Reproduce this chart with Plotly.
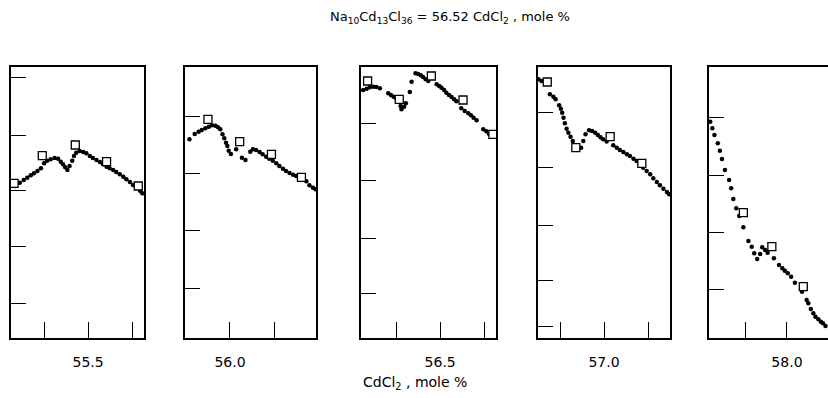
import plotly.graph_objects as go

# ---------------- data (x: CdCl2 mole %, y: arbitrary units, 1 unit = 1 division) ----------------
p1_dot_x = [55.335, 55.345, 55.354, 55.362, 55.370, 55.377, 55.385, 55.393, 55.400, 55.407,
            55.415, 55.424, 55.432, 55.438, 55.443, 55.448, 55.453, 55.458, 55.464, 55.468,
            55.473, 55.481, 55.489, 55.496, 55.504, 55.511, 55.519, 55.527, 55.534, 55.542,
            55.549, 55.557, 55.564, 55.572, 55.580, 55.587, 55.595, 55.602, 55.610, 55.618, 55.623]
p1_dot_y = [2.690, 2.749, 2.796, 2.837, 2.880, 2.915, 2.956, 3.004, 3.092, 3.138,
            3.163, 3.186, 3.173, 3.120, 3.074, 3.021, 2.973, 3.044, 3.138, 3.221,
            3.280, 3.310, 3.292, 3.269, 3.221, 3.186, 3.150, 3.115, 3.074, 3.032,
            3.004, 2.973, 2.938, 2.897, 2.855, 2.809, 2.761, 2.708, 2.660, 2.607, 2.561]
p1_sq_x = [55.332, 55.396, 55.471, 55.542, 55.614]
p1_sq_y = [2.738, 3.227, 3.416, 3.120, 2.690]

p2_dot_x = [55.908, 55.920, 55.929, 55.936, 55.944, 55.952, 55.959, 55.967, 55.973, 55.978,
            55.983, 55.987, 55.991, 55.994, 55.997, 56.002, 56.014, 56.027, 56.035, 56.046,
            56.052, 56.059, 56.067, 56.074, 56.082, 56.089, 56.097, 56.105, 56.112, 56.120,
            56.127, 56.135, 56.143, 56.150, 56.158, 56.165, 56.173, 56.180, 56.188, 56.194]
p2_dot_y = [3.517, 3.611, 3.651, 3.681, 3.712, 3.740, 3.765, 3.758, 3.729, 3.694,
            3.605, 3.535, 3.457, 3.398, 3.315, 3.257, 3.340, 3.191, 3.150, 3.297,
            3.340, 3.327, 3.292, 3.251, 3.209, 3.173, 3.138, 3.092, 3.044, 2.996,
            2.956, 2.920, 2.890, 2.867, 2.850, 2.827, 2.773, 2.703, 2.660, 2.632]
p2_sq_x = [55.950, 56.022, 56.094, 56.162]
p2_sq_y = [3.871, 3.474, 3.251, 2.844]

p3_dot_x = [56.325, 56.333, 56.340, 56.348, 56.355, 56.363, 56.382, 56.388, 56.394, 56.400,
            56.410, 56.412, 56.418, 56.422, 56.431, 56.435, 56.444, 56.450, 56.456, 56.461,
            56.467, 56.473, 56.492, 56.498, 56.503, 56.509, 56.514, 56.520, 56.526, 56.532,
            56.537, 56.548, 56.556, 56.564, 56.570, 56.576, 56.583, 56.598, 56.605, 56.611]
p3_dot_y = [4.389, 4.412, 4.437, 4.448, 4.442, 4.419, 4.331, 4.301, 4.271, 4.242,
            4.106, 4.048, 4.094, 4.154, 4.354, 4.536, 4.685, 4.673, 4.650, 4.619,
            4.579, 4.549, 4.490, 4.460, 4.430, 4.389, 4.342, 4.301, 4.265, 4.225,
            4.189, 4.065, 4.018, 3.977, 3.942, 3.899, 3.853, 3.694, 3.658, 3.616]
p3_sq_x = [56.335, 56.407, 56.480, 56.552, 56.620]
p3_sq_y = [4.549, 4.225, 4.637, 4.212, 3.605]

p4_dot_x = [56.851, 56.858, 56.877, 56.885, 56.890, 56.898, 56.902, 56.905, 56.908, 56.911,
            56.915, 56.919, 56.924, 56.929, 56.933, 56.948, 56.953, 56.958, 56.966, 56.973,
            56.980, 56.986, 56.992, 56.998, 57.006, 57.021, 57.029, 57.036, 57.044, 57.052,
            57.059, 57.067, 57.074, 57.089, 57.097, 57.105, 57.112, 57.120, 57.127, 57.135,
            57.143, 57.148]
p4_dot_y = [4.579, 4.549, 4.313, 4.271, 4.225, 4.119, 4.058, 3.988, 3.899, 3.800,
            3.704, 3.634, 3.563, 3.487, 3.411, 3.368, 3.487, 3.605, 3.676, 3.664,
            3.634, 3.593, 3.552, 3.517, 3.478, 3.411, 3.368, 3.327, 3.292, 3.251,
            3.221, 3.173, 3.133, 3.014, 2.956, 2.897, 2.827, 2.761, 2.703, 2.642,
            2.584, 2.543]
p4_sq_x = [56.871, 56.936, 57.014, 57.086]
p4_sq_y = [4.531, 3.368, 3.563, 3.092]

p5_dot_x = [57.817, 57.822, 57.827, 57.835, 57.840, 57.845, 57.852, 57.862, 57.867, 57.872,
            57.879, 57.886, 57.896, 57.908, 57.916, 57.922, 57.929, 57.936, 57.941, 57.948,
            57.954, 57.969, 57.981, 57.989, 57.995, 58.002, 58.010, 58.019, 58.036, 58.047,
            58.051, 58.057, 58.063, 58.068, 58.075, 58.081, 58.086, 58.092]
p5_dot_y = [3.828, 3.712, 3.593, 3.446, 3.315, 3.168, 2.973, 2.796, 2.650, 2.460,
            2.296, 2.159, 1.959, 1.717, 1.616, 1.499, 1.398, 1.487, 1.605, 1.558,
            1.510, 1.411, 1.292, 1.234, 1.191, 1.145, 1.085, 0.979, 0.819, 0.673,
            0.614, 0.513, 0.437, 0.377, 0.331, 0.288, 0.260, 0.212]
p5_sq_x = [57.896, 57.964, 58.039]
p5_sq_y = [2.218, 1.616, 0.908]

# tick values / labels
x_label_vals = [[55.5], [56.0], [56.5], [57.0], [58.0]]
x_label_text = [["55.5"], ["56.0"], ["56.5"], ["57.0"], ["58.0"]]
x_minor_vals = [[55.4, 55.6], [56.1], [56.4, 56.6], [56.9, 57.1], [57.9]]
y_tickvals = [[0.602, 1.611, 2.602, 3.593, 4.602],
              [0.885, 1.894, 2.903, 3.912],
              [0.779, 1.770, 2.779, 3.788],
              [0.195, 1.009, 2.000, 3.009, 4.000],
              [0.867, 1.876, 2.885, 3.894]]

title_text = "Na<sub>10</sub>Cd<sub>13</sub>Cl<sub>36</sub> = 56.52 CdCl<sub>2</sub> , mole %"
xaxis_title = "CdCl<sub>2</sub> , mole %"

# ---------------- layout config ----------------
W, H = 828, 398
x_ranges = [[55.325, 55.627], [55.898, 56.195], [56.320, 56.627], [56.850, 57.150], [57.814, 58.098]]
x_px = [[11, 144], [185, 316], [361, 496], [538, 670], [709, 828]]
y_px = [67, 338]
y_range = [0, (y_px[1] - y_px[0]) / 56.5]

dots = [(p1_dot_x, p1_dot_y), (p2_dot_x, p2_dot_y), (p3_dot_x, p3_dot_y),
        (p4_dot_x, p4_dot_y), (p5_dot_x, p5_dot_y)]
squares = [(p1_sq_x, p1_sq_y), (p2_sq_x, p2_sq_y), (p3_sq_x, p3_sq_y),
           (p4_sq_x, p4_sq_y), (p5_sq_x, p5_sq_y)]

FONT = "DejaVu Sans"
fig = go.Figure()
for i in range(5):
    sfx = "" if i == 0 else str(i + 1)
    fig.add_trace(go.Scatter(x=dots[i][0], y=dots[i][1], mode="markers",
                             marker=dict(color="black", size=4.5, symbol="circle"),
                             xaxis="x" + sfx, yaxis="y" + sfx, showlegend=False))
    fig.add_trace(go.Scatter(x=squares[i][0], y=squares[i][1], mode="markers",
                             marker=dict(color="white", size=8, symbol="square",
                                         line=dict(color="black", width=1.3)),
                             xaxis="x" + sfx, yaxis="y" + sfx, showlegend=False))
    last = (i == 4)
    fig.layout["xaxis" + sfx] = dict(
        domain=[x_px[i][0] / W, x_px[i][1] / W], range=x_ranges[i], anchor="y" + sfx,
        showgrid=False, zeroline=False, showline=True, linecolor="black", linewidth=1.5,
        mirror=True, ticks="inside", ticklen=16, tickwidth=1, tickcolor="black",
        tickvals=x_label_vals[i], ticktext=x_label_text[i], ticklabelstandoff=10,
        tickfont=dict(family=FONT, size=14, color="black"),
        minor=dict(tickvals=x_minor_vals[i], ticks="inside", ticklen=16, tickwidth=1,
                   tickcolor="black", showgrid=False))
    fig.layout["yaxis" + sfx] = dict(
        domain=[1 - y_px[1] / H, 1 - y_px[0] / H], range=y_range, anchor="x" + sfx,
        showgrid=False, zeroline=False, showline=True, linecolor="black", linewidth=1.5,
        mirror=(not last), ticks="inside", ticklen=15, tickwidth=1, tickcolor="black",
        tickvals=y_tickvals[i], showticklabels=False)

fig.add_annotation(text=title_text, x=450 / W, y=1 - 18 / H, xref="paper", yref="paper",
                   showarrow=False, xanchor="center", yanchor="middle",
                   font=dict(family=FONT, size=13, color="black"))
fig.add_annotation(text=xaxis_title, x=415 / W, y=1 - 383 / H, xref="paper", yref="paper",
                   showarrow=False, xanchor="center", yanchor="middle",
                   font=dict(family=FONT, size=14, color="black"))

fig.update_layout(width=W, height=H, margin=dict(l=0, r=0, t=0, b=0),
                  paper_bgcolor="white", plot_bgcolor="white")
fig.write_html("out.html")
